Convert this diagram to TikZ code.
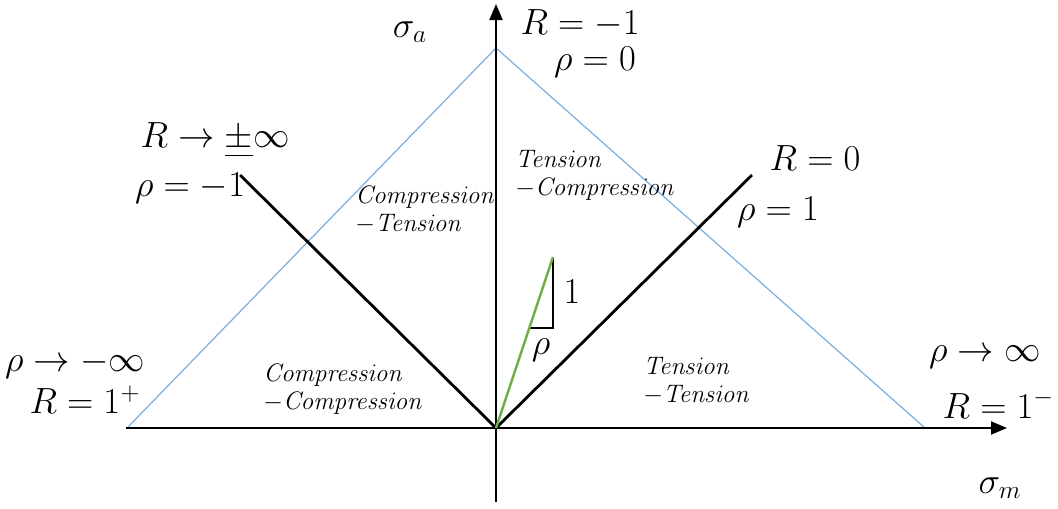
\documentclass[tikz,border=0pt]{standalone}
\usepackage{amsmath,amssymb}
\usetikzlibrary{arrows.meta, positioning}
\definecolor{envBlue}{RGB}{125,175,222}
\definecolor{rhoGreen}{RGB}{112,173,71}

\begin{document}
\begin{tikzpicture}[
    x=0.02cm, y=-0.02cm,
    every node/.style={inner sep=1pt},
    axis/.style   ={line width=1.1pt, -{Triangle[length=3.2mm, width=2.6mm]}},
    bound/.style  ={line width=1.6pt, draw=black},
    envelope/.style={line width=0.7pt, draw=envBlue},
    ratio/.style  ={line width=1.4pt, draw=rhoGreen},
    leg/.style    ={line width=0.6pt, draw=black},
    lbl/.style    ={font=\fontsize{20}{24}\selectfont},
    region/.style ={font=\fontsize{15.5}{16}\selectfont, align=left, anchor=north west, inner sep=0pt}
]
\useasboundingbox (0,0) rectangle (1058,508);
% reference points
\coordinate (o) at (496,428);
\coordinate (xstart) at (126,428);
\coordinate (xend) at (1007,428);
\coordinate (ybot) at (496,502);
\coordinate (ytop) at (496,4);
\coordinate (envL) at (127,428);
\coordinate (envT) at (496,48);
\coordinate (envR) at (925,428);
\coordinate (negOne) at (240,175);
\coordinate (zero) at (752,175);
\coordinate (rhoTip) at (553,257);
\coordinate (rhoFoot) at (553,328);
\coordinate (rhoBase) at (529,328);

\draw[envelope] (envL) -- (envT) -- (envR);
\draw[bound] (negOne) -- (o) -- (zero);
\draw[axis] (xstart) -- (xend);
\draw[axis] (ybot) -- (ytop);
\draw[leg] (rhoTip) -- (rhoFoot) -- (rhoBase);
\draw[ratio] (o) -- (rhoTip);

\node[lbl] (sa) at (410,32) {$\sigma_a$};
\node[lbl] (rm1) at (580,24) {$R=-1$};
\node[lbl] (r0) at (595,62) {$\rho=0$};
\node[lbl] (rinf) at (215,140) {$R\rightarrow\underline{\pm}\infty$};
\node[lbl] (rhom1) at (190,188) {$\rho=-1$};
\node[lbl] (rz) at (815,158) {$R=0$};
\node[lbl] (rho1) at (778,212) {$\rho=1$};
\node[lbl] (rhomi) at (75,364) {$\rho\rightarrow-\infty$};
\node[lbl] (r1p) at (85,400) {$R=1^{+}$};
\node[lbl] (rhopi) at (985,357) {$\rho\rightarrow\infty$};
\node[lbl, anchor=east] (r1m) at (1056,404) {$R=1^{-}$};
\node[lbl] (sm) at (1000,488) {$\sigma_m$};
\node[lbl] (one) at (572,292) {$1$};
\node[lbl] (rho) at (541,350) {$\rho$};

\node[region] (ct) at (355,186) {$\mathit{Compression}$\\$-\mathit{Tension}$};
\node[region] (tc) at (515,150) {$\mathit{Tension}$\\$-\mathit{Compression}$};
\node[region] (cc) at (263,364) {$\mathit{Compression}$\\$-\mathit{Compression}$};
\node[region] (tt) at (643,357) {$\mathit{Tension}$\\$-\mathit{Tension}$};
\end{tikzpicture}
\end{document}
